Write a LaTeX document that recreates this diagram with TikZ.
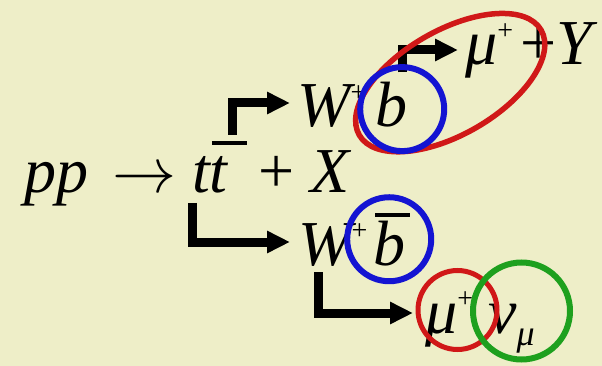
\RequirePackage{fix-cm}
\documentclass[tikz,border=0pt]{standalone}
\usepackage{fontspec}
\setmainfont{Liberation Serif}
\usepackage{xcolor}
\usepackage{tikz}
\usetikzlibrary{positioning, calc, arrows.meta}
\definecolor{paper}{HTML}{EEEEC8}
\definecolor{ringblue}{HTML}{1414D2}
\definecolor{ringred}{HTML}{D01818}
\definecolor{ringgreen}{HTML}{1EA01E}
\newcommand{\barred}[1]{\rlap{\hspace{0.03em}\rule[0.75em]{0.55em}{0.065em}}#1}
\newcommand{\sups}[1]{\raisebox{0.4em}{\fontsize{28}{30}\selectfont\upshape #1}}
\newcommand{\subs}[1]{\raisebox{-0.2em}{\fontsize{36}{38}\selectfont #1}}

\begin{document}
\begin{tikzpicture}[x=1pt, y=-1pt, >={Triangle[length=23pt, width=21pt]},
  every node/.style={inner sep=0pt, anchor=base west, font=\fontsize{64}{70}\selectfont\itshape},
  elbow/.style={->, line width=9pt, line join=miter},
  ring/.style={line width=6pt}]
\fill[paper] (0,0) rectangle (602,366);
\useasboundingbox (0,0) rectangle (602,366);
% production
\node (pp) at (24,193) {pp};
\node (to) at (112,193) {$\rightarrow$};
\node (tt) at (192,193) {t\barred{t}};
\node (px) at (258,193) {\upshape+ \itshape X};
% top branch
\node (w1) at (297,127) {W\sups{+}};
\node (b1) at (375,127) {b};
\node (mu1) at (465,65) {μ\sups{+}\hspace{0.12em}{\upshape+}Y};
% antitop branch
\node (w2) at (298,265) {W\sups{+}};
\node (b2) at (373,265) {\barred{b}};
\node (mu2) at (425,333) {μ\sups{+}};
\node (nu2) at (488,333) {ν\subs{μ}};
% decay arrows
\draw[elbow] ($(tt.north east)+(5,-6)$) |- ($(w1.base west)+(-7,-24)$);
\draw[elbow] ($(tt.south west)+(0,9)$) |- ($(w2.base west)+(-8,-23)$);
\draw[elbow] ($(b1.north)+(11,-10)$) |- ($(mu1.base west)+(-7,-15)$);
\draw[elbow] ($(w2.base west)+(20,7)$) |- ($(mu2.base west)+(-12,-20)$);
% tagging rings
\coordinate (tag) at ($(b1.center)+(59,-22.5)$);
\draw[ring, ringred, line width=5.5pt, rotate around={30:(tag)}] (tag) ellipse [x radius=105, y radius=52];
\draw[ring, ringblue] ($(b1.center)+(11,4)$) circle [radius=42];
\draw[ring, ringblue] (b2.center) circle [radius=42];
\draw[ring, ringred, line width=5pt] ($(mu2.base west)+(32.5,-23)$) circle [radius=39.5];
\draw[ring, ringgreen] ($(nu2.base west)+(33.5,-22)$) circle [radius=48.5];
\end{tikzpicture}
\end{document}
